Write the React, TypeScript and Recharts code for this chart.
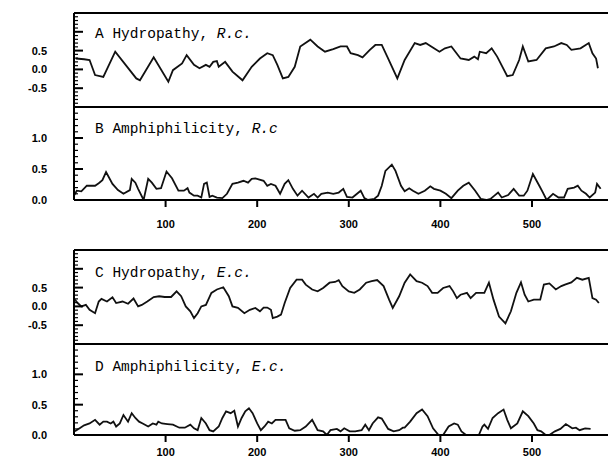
import React from "react";
import { Line, LineChart, ReferenceLine, XAxis, YAxis } from "recharts";

// residue positions and values
const hydroRcPos = [2, 11, 17, 23, 32, 45, 68, 72, 87, 103, 108, 118, 123, 131, 137, 144, 148, 152, 156, 158, 165, 173, 184, 194, 203, 211, 217, 222, 228, 234, 241, 247, 258, 266, 274, 283, 291, 298, 302, 310, 315, 323, 329, 336, 342, 353, 361, 372, 378, 384, 393, 399, 405, 412, 422, 431, 437, 441, 443, 450, 456, 462, 473, 479, 486, 490, 496, 505, 515, 524, 532, 538, 543, 553, 562, 566, 570, 572];
const hydroRcVal = [0.29, 0.27, 0.25, -0.15, -0.2, 0.47, -0.24, -0.29, 0.32, -0.33, -0.02, 0.16, 0.38, 0.12, 0.03, 0.12, 0.07, 0.2, 0.22, 0.07, 0.2, -0.06, -0.29, 0.07, 0.29, 0.43, 0.38, 0.12, -0.24, -0.2, 0.07, 0.61, 0.79, 0.61, 0.47, 0.54, 0.61, 0.61, 0.43, 0.38, 0.32, 0.52, 0.65, 0.65, 0.34, -0.24, 0.25, 0.7, 0.65, 0.7, 0.56, 0.47, 0.56, 0.61, 0.29, 0.25, 0.34, 0.27, 0.47, 0.43, 0.56, 0.34, -0.18, -0.15, 0.25, 0.61, 0.21, 0.25, 0.56, 0.61, 0.7, 0.65, 0.52, 0.56, 0.7, 0.43, 0.29, 0.03];

const amphiRcPos = [0, 3, 8, 14, 23, 27, 31, 35, 42, 48, 54, 61, 63, 67, 70, 76, 81, 85, 90, 95, 101, 107, 114, 120, 124, 126, 131, 135, 139, 142, 145, 148, 151, 156, 162, 167, 173, 179, 185, 190, 194, 198, 207, 211, 215, 220, 225, 230, 234, 239, 244, 249, 256, 262, 266, 270, 277, 283, 289, 294, 298, 304, 309, 313, 317, 321, 328, 332, 336, 340, 347, 351, 357, 361, 366, 370, 376, 383, 389, 393, 400, 406, 412, 419, 425, 431, 438, 444, 450, 455, 459, 463, 467, 474, 480, 486, 491, 495, 501, 508, 512, 516, 523, 529, 535, 539, 546, 550, 554, 559, 563, 569, 571, 575];
const amphiRcVal = [0.07, 0.15, 0.14, 0.23, 0.23, 0.27, 0.32, 0.45, 0.26, 0.16, 0.1, 0.16, 0.34, 0.28, 0.18, 0, 0.34, 0.28, 0.18, 0.19, 0.46, 0.35, 0.15, 0.15, 0.19, 0.12, 0.07, 0.07, 0.04, 0.26, 0.28, 0.05, 0.07, 0.04, 0.03, 0.1, 0.26, 0.28, 0.31, 0.28, 0.34, 0.35, 0.31, 0.23, 0.26, 0.23, 0.1, 0.26, 0.32, 0.18, 0.07, 0.15, 0.04, 0.1, 0.04, 0.1, 0.12, 0.1, 0.12, 0.18, 0.05, 0.04, 0.1, 0.15, 0.03, 0, 0.02, 0.07, 0.23, 0.47, 0.57, 0.47, 0.23, 0.14, 0.19, 0.15, 0.1, 0.15, 0.22, 0.18, 0.15, 0.1, 0.03, 0.15, 0.23, 0.28, 0.15, 0.02, 0, 0.02, 0.07, 0.12, 0.04, 0.08, 0.18, 0.07, 0.07, 0.15, 0.42, 0.23, 0.12, 0, 0.1, 0.04, 0.04, 0.18, 0.2, 0.23, 0.15, 0.1, 0.04, 0.12, 0.26, 0.18];

const hydroEcPos = [1, 4, 8, 13, 17, 23, 27, 30, 36, 42, 46, 53, 59, 65, 70, 74, 80, 87, 93, 99, 106, 112, 117, 122, 127, 131, 135, 139, 144, 150, 156, 163, 169, 173, 179, 186, 192, 198, 203, 207, 211, 215, 217, 222, 226, 230, 236, 243, 249, 253, 260, 266, 272, 279, 285, 289, 293, 300, 306, 312, 319, 325, 331, 338, 344, 348, 355, 361, 367, 374, 380, 386, 391, 397, 403, 410, 414, 418, 422, 429, 433, 439, 448, 453, 458, 464, 471, 477, 483, 488, 492, 496, 502, 509, 513, 519, 526, 532, 536, 543, 549, 555, 562, 566, 570, 573];
const hydroEcVal = [0.18, 0.09, 0, 0.04, -0.09, -0.18, 0.13, 0.2, 0.13, 0.24, 0.09, 0.13, 0.07, 0.21, 0, 0.04, 0.13, 0.25, 0.27, 0.25, 0.25, 0.4, 0.27, 0, -0.13, -0.31, -0.18, 0, 0.04, 0.36, 0.45, 0.51, 0.27, 0, -0.04, -0.18, -0.09, -0.04, -0.13, -0.03, -0.03, -0.09, -0.31, -0.27, -0.22, 0.09, 0.49, 0.71, 0.71, 0.58, 0.45, 0.4, 0.49, 0.63, 0.65, 0.7, 0.54, 0.4, 0.36, 0.45, 0.63, 0.67, 0.7, 0.54, 0.18, -0.04, 0.27, 0.63, 0.85, 0.67, 0.63, 0.54, 0.36, 0.36, 0.49, 0.54, 0.4, 0.22, 0.31, 0.36, 0.22, 0.36, 0.36, 0.63, 0.18, -0.27, -0.45, -0.13, 0.36, 0.64, 0.31, 0.13, 0.18, 0.18, 0.58, 0.61, 0.45, 0.54, 0.58, 0.64, 0.76, 0.71, 0.76, 0.22, 0.18, 0.09];

const amphiEcPos = [1, 7, 11, 17, 23, 28, 32, 36, 40, 43, 46, 50, 54, 59, 63, 67, 71, 75, 81, 86, 90, 92, 96, 102, 108, 115, 121, 127, 131, 135, 139, 144, 148, 152, 158, 162, 166, 171, 175, 179, 183, 187, 191, 195, 200, 204, 208, 212, 216, 220, 226, 231, 235, 241, 247, 253, 260, 266, 272, 276, 280, 287, 291, 295, 301, 307, 314, 318, 322, 326, 332, 336, 343, 349, 355, 359, 361, 367, 374, 380, 386, 392, 398, 403, 409, 415, 419, 423, 428, 436, 442, 446, 448, 452, 457, 463, 469, 473, 477, 484, 490, 496, 502, 506, 510, 515, 519, 525, 531, 537, 544, 548, 552, 558, 564];
const amphiEcVal = [0.06, 0.12, 0.16, 0.19, 0.25, 0.17, 0.22, 0.22, 0.19, 0.22, 0.14, 0.19, 0.33, 0.22, 0.36, 0.28, 0.22, 0.19, 0.14, 0.19, 0.17, 0.22, 0.19, 0.18, 0.17, 0.12, 0.12, 0.17, 0.11, 0.08, 0.28, 0.19, 0.08, 0.06, 0.14, 0.28, 0.39, 0.36, 0.4, 0.14, 0.28, 0.39, 0.44, 0.36, 0.19, 0.08, 0.14, 0.22, 0.19, 0.25, 0.25, 0.25, 0.11, 0.07, 0.08, 0.14, 0.25, 0.08, 0.06, 0, 0.08, 0.1, 0.06, 0.11, 0.06, 0.06, 0.08, 0.17, 0.08, 0.19, 0.29, 0.27, 0.1, 0.06, 0.08, 0.12, 0.12, 0.22, 0.36, 0.42, 0.31, 0.11, 0, 0, 0.14, 0.19, 0.17, 0.06, 0, 0, 0, 0.14, 0.17, 0.1, 0.28, 0.36, 0.42, 0.25, 0.11, 0.19, 0.39, 0.31, 0.19, 0.08, 0.06, 0, 0, 0.06, 0.1, 0.18, 0.11, 0.12, 0.08, 0.11, 0.1];

const xTicks = [100, 200, 300, 400, 500];
const hydroMajor = [1.0, 0.5, 0, -0.5];
const hydroLabels = ["0.5", "0.0", "-0.5"];
const amphiMajor = [1.0, 0.5];
const amphiLabels = ["1.0", "0.5", "0.0"];

const AXIS_X = 74;
const X_DOMAIN: [number, number] = [0, 583];
const tickFont = { fontFamily: "Liberation Sans, Arial, sans-serif", fontWeight: 700, fontSize: 11 };

function toRows(pos: number[], val: number[]) {
  const n = Math.min(pos.length, val.length);
  return pos.slice(0, n).map((p, i) => ({ pos: p, v: val[i] }));
}

// every 0.1 gets a small tick, like the scanned axis
function tenthTicks(min: number, max: number) {
  const out: number[] = [];
  for (let i = Math.round(min * 10); i <= Math.round(max * 10); i++) out.push(i / 10);
  return out;
}

function makeYTick(major: number[], labels: string[]) {
  return (props: any) => {
    const { y, payload } = props;
    const v = payload.value;
    const isMajor = major.some((m) => Math.abs(m - v) < 1e-6);
    const lab = labels.find((l) => Math.abs(parseFloat(l) - v) < 1e-6);
    return (
      <g>
        <line
          x1={AXIS_X}
          x2={AXIS_X + (isMajor ? 9 : 4)}
          y1={y}
          y2={y}
          stroke="#000"
          strokeWidth={isMajor ? 2 : 1.2}
        />
        {lab !== undefined && (
          <text x={47} y={y + 4} textAnchor="end" fill="#000" {...tickFont}>
            {lab}
          </text>
        )}
      </g>
    );
  };
}

interface PanelProps {
  top: number;
  height: number;
  mTop: number;
  mBottom: number;
  domain: [number, number];
  major: number[];
  labels: string[];
  data: { pos: number; v: number }[];
  showX: boolean;
  xHeight?: number;
  xMargin?: number;
}

function Panel({ top, height, mTop, mBottom, domain, major, labels, data, showX, xHeight = 30, xMargin = 11 }: PanelProps) {
  return (
    <div style={{ position: "absolute", left: 0, top, width: 608, height }}>
      <LineChart width={608} height={height} data={data} margin={{ top: mTop, right: 0, bottom: mBottom, left: 0 }}>
        <XAxis
          type="number"
          dataKey="pos"
          domain={X_DOMAIN}
          ticks={xTicks}
          hide={!showX}
          height={xHeight}
          allowDataOverflow
          interval={0}
          axisLine={{ stroke: "#000", strokeWidth: 2 }}
          tickLine={{ stroke: "#000", strokeWidth: 2 }}
          tickSize={7}
          tickMargin={xMargin}
          tick={{ fill: "#000", ...tickFont }}
        />
        <YAxis
          type="number"
          domain={domain}
          ticks={tenthTicks(domain[0], domain[1])}
          interval={0}
          width={AXIS_X}
          allowDataOverflow
          tickSize={0}
          tickMargin={0}
          tickLine={false}
          axisLine={{ stroke: "#000", strokeWidth: 2 }}
          tick={makeYTick(major, labels)}
        />
        <ReferenceLine y={domain[1]} stroke="#000" strokeWidth={2} />
        {!showX && <ReferenceLine y={domain[0]} stroke="#000" strokeWidth={2} />}
        <Line
          type="linear"
          dataKey="v"
          stroke="#111"
          strokeWidth={1.8}
          dot={false}
          isAnimationActive={false}
        />
      </LineChart>
    </div>
  );
}

const titleFont = { fontFamily: "Liberation Mono, Courier New, monospace", fontSize: 14.5, fill: "#000" };

function Title({ x, y, text, italic }: { x: number; y: number; text: string; italic: string }) {
  return (
    <text x={x} y={y} {...titleFont}>
      {text}
      <tspan fontStyle="italic">{italic}</tspan>
    </text>
  );
}

export default function App() {
  return (
    <div style={{ position: "absolute", left: 0, top: 0, width: 608, height: 461, overflow: "hidden", background: "#fff" }}>
      <Panel top={0} height={110} mTop={13} mBottom={3} domain={[-1, 1.5]} major={hydroMajor} labels={hydroLabels} data={toRows(hydroRcPos, hydroRcVal)} showX={false} />
      <Panel top={100} height={130} mTop={7} mBottom={0} domain={[0, 1.5]} major={amphiMajor} labels={amphiLabels} data={toRows(amphiRcPos, amphiRcVal)} showX xHeight={30} xMargin={13} />
      <Panel top={240} height={110} mTop={10} mBottom={6} domain={[-1, 1.5]} major={hydroMajor} labels={hydroLabels} data={toRows(hydroEcPos, hydroEcVal)} showX={false} />
      <Panel top={335} height={126} mTop={9} mBottom={0} domain={[0, 1.5]} major={amphiMajor} labels={amphiLabels} data={toRows(amphiEcPos, amphiEcVal)} showX xHeight={26} xMargin={6} />
      <svg width={608} height={461} style={{ position: "absolute", left: 0, top: 0, pointerEvents: "none" }}>
        <Title x={95} y={38} text="A Hydropathy, " italic="R.c." />
        <Title x={95} y={133} text="B Amphiphilicity, " italic="R.c" />
        <Title x={95} y={277} text="C Hydropathy, " italic="E.c." />
        <Title x={95} y={371} text="D Amphiphilicity, " italic="E.c." />
      </svg>
    </div>
  );
}
